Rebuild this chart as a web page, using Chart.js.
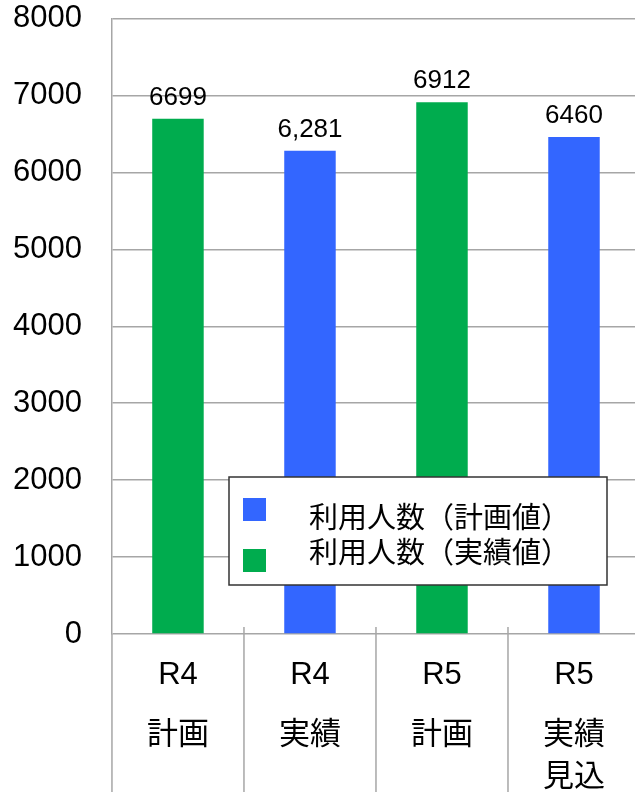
<!DOCTYPE html>
<html>
<head>
<meta charset="utf-8">
<script src="https://cdn.jsdelivr.net/npm/chart.js@4.4.1/dist/chart.umd.min.js"></script>
<style>
  html, body { margin: 0; padding: 0; background: #fff; overflow: hidden; }
</style>
</head>
<body>
<canvas id="c" width="642" height="792"></canvas>
<script>
// data
var categories = [['R4', '計画'], ['R4', '実績'], ['R5', '計画'], ['R5', '実績', '見込']];
var values = [6699, 6281, 6912, 6460];
var valueLabels = ['6699', '6,281', '6912', '6460'];
var barColors = ['#00AC4E', '#3366FF', '#00AC4E', '#3366FF'];
var legendLabels = ['利用人数（計画値）', '利用人数（実績値）'];
var legendColors = ['#3366FF', '#00AC4E'];
var yTicks = [0, 1000, 2000, 3000, 4000, 5000, 6000, 7000, 8000];

var gridColor = '#a6a6a6';
var fontFam = "'Liberation Sans', 'Noto Sans CJK JP', sans-serif";

var extras = {
  id: 'extras',
  afterDatasetsDraw: function (chart) {
    var ctx = chart.ctx, xs = chart.scales.x, area = chart.chartArea;
    var half = (xs.getPixelForValue(1) - xs.getPixelForValue(0)) / 2;
    ctx.save();
    ctx.strokeStyle = gridColor;
    ctx.lineWidth = 1.5;
    // left axis continues down past the category labels
    ctx.beginPath();
    ctx.moveTo(area.left, area.bottom);
    ctx.lineTo(area.left, chart.height);
    ctx.stroke();
    // category separators
    for (var i = 1; i < categories.length + 1; i++) {
      var bx = xs.getPixelForValue(i) - half;
      ctx.beginPath();
      ctx.moveTo(bx, area.bottom - 7);
      ctx.lineTo(bx, chart.height);
      ctx.stroke();
    }
    // category labels
    ctx.fillStyle = '#000';
    ctx.textAlign = 'center';
    ctx.textBaseline = 'middle';
    var offs = [41, 101, 143];
    ctx.font = '31px ' + fontFam;
    categories.forEach(function (lines, i) {
      var cx = xs.getPixelForValue(i);
      lines.forEach(function (t, j) {
        ctx.fillText(t, cx, area.bottom + offs[j]);
      });
    });
    // value labels
    var meta = chart.getDatasetMeta(0);
    ctx.font = '26px ' + fontFam;
    ctx.textBaseline = 'alphabetic';
    meta.data.forEach(function (bar, i) {
      ctx.fillText(valueLabels[i], bar.x, bar.y - 14);
    });
    ctx.restore();
  },
  afterDraw: function (chart) {
    var ctx = chart.ctx;
    ctx.save();
    // legend box inside the plot
    ctx.fillStyle = '#fff';
    ctx.fillRect(229, 477, 378, 108);
    ctx.strokeStyle = '#333';
    ctx.lineWidth = 1.5;
    ctx.strokeRect(229, 477, 378, 108);
    var sqY = [498, 549];
    var txY = [517, 552];
    ctx.font = "29px 'Noto Sans CJK JP', sans-serif";
    ctx.textAlign = 'left';
    ctx.textBaseline = 'middle';
    for (var i = 0; i < legendLabels.length; i++) {
      ctx.fillStyle = legendColors[i];
      ctx.fillRect(243, sqY[i], 23, 23);
      ctx.fillStyle = '#000';
      ctx.fillText(legendLabels[i], 309, txY[i]);
    }
    ctx.restore();
  }
};

new Chart(document.getElementById('c'), {
  type: 'bar',
  data: {
    labels: categories.map(function (c) { return c.join(''); }),
    datasets: [{
      data: values,
      backgroundColor: barColors,
      barPercentage: 0.39,
      categoryPercentage: 1
    }]
  },
  options: {
    responsive: false,
    animation: false,
    layout: { padding: { left: 13, top: 0, right: 2, bottom: 158 } },
    plugins: { legend: { display: false }, tooltip: { enabled: false } },
    scales: {
      x: { display: false },
      y: {
        min: 0,
        max: 8000,
        afterBuildTicks: function (axis) {
          axis.ticks = yTicks.map(function (v) { return { value: v }; });
        },
        grid: { color: gridColor, lineWidth: 1.5, drawTicks: true, tickLength: 30, tickColor: 'rgba(0,0,0,0)' },
        border: { color: gridColor, width: 1.5 },
        ticks: {
          color: '#000',
          padding: 0,
          font: { family: fontFam, size: 31 },
          callback: function (v) { return String(v); }
        }
      }
    }
  },
  plugins: [extras]
});
</script>
</body>
</html>
